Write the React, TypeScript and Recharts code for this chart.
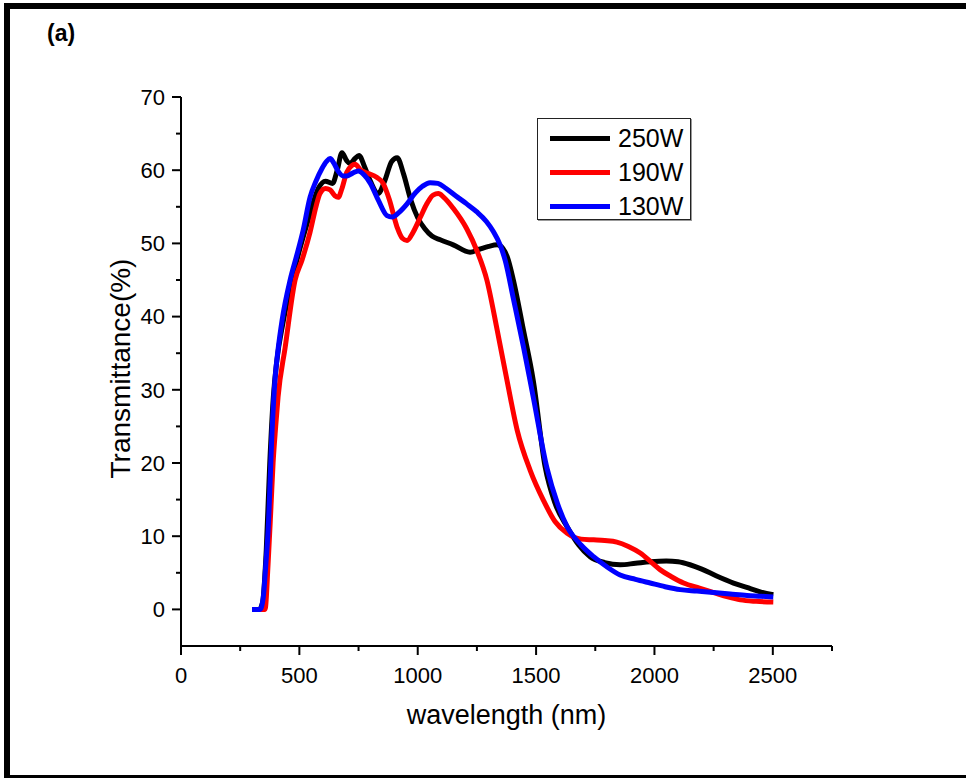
import React from 'react'
import { LineChart, Line, XAxis, YAxis, Legend } from 'recharts'

// wavelength (nm) / transmittance (%)
const wl250 = [300, 330, 345, 360, 375, 390, 405, 430, 465, 500, 540, 580, 610, 640, 660, 680, 700, 714, 735, 752, 775, 800, 833, 860, 890, 913, 940, 970, 1000, 1030, 1060, 1095, 1150, 1221, 1260, 1300, 1336, 1360, 1380, 1404, 1447, 1488, 1538, 1580, 1631, 1680, 1728, 1790, 1855, 1920, 1982, 2050, 2100, 2150, 2200, 2260, 2334, 2390, 2447, 2502]
const t250 = [0, 0, 1, 8, 20, 29, 34, 39, 44.5, 49, 53.5, 57.5, 58.5, 58.2, 60, 62.4, 61.3, 60.9, 61.6, 62, 60.5, 58.5, 56.8, 58.5, 61.2, 61.7, 59.5, 56, 53.5, 52, 51, 50.5, 49.8, 48.8, 49.2, 49.6, 49.8, 49.3, 48, 45, 38.1, 31.3, 19.5, 14.5, 11.3, 8.8, 7.2, 6.4, 6.1, 6.3, 6.5, 6.6, 6.5, 6.1, 5.5, 4.6, 3.6, 3.0, 2.4, 2.0]

const wl190 = [300, 355, 368, 380, 389, 400, 410, 440, 482, 511, 545, 570, 587, 610, 630, 650, 664, 680, 700, 720, 735, 760, 786, 828, 854, 880, 913, 935, 955, 980, 1010, 1040, 1065, 1087, 1110, 1150, 1207, 1250, 1292, 1336, 1377, 1420, 1475, 1531, 1580, 1631, 1690, 1743, 1790, 1841, 1890, 1940, 1985, 2025, 2070, 2123, 2190, 2250, 2310, 2363, 2430, 2502]
const t190 = [0, 0, 6.3, 14, 20, 25, 29, 35.8, 45, 47.7, 51.5, 55, 56.8, 57.5, 57.3, 56.5, 56.3, 57.5, 59.7, 60.6, 60.8, 60, 59.6, 59, 58.2, 56, 52.2, 50.7, 50.4, 51.5, 53.5, 55.5, 56.6, 56.8, 56.3, 54.8, 52, 49, 45, 38.1, 31.3, 24.5, 19, 14.9, 12, 10.4, 9.6, 9.5, 9.4, 9.2, 8.6, 7.7, 6.5, 5.4, 4.5, 3.6, 2.9, 2.3, 1.7, 1.3, 1.1, 1.0]

const wl130 = [300, 334, 347, 358, 368, 385, 397, 410, 427, 461, 490, 516, 545, 570, 595, 615, 630, 645, 665, 685, 700, 725, 749, 775, 800, 835, 870, 892, 920, 955, 990, 1020, 1052, 1085, 1120, 1160, 1207, 1250, 1290, 1320, 1348, 1370, 1403, 1447, 1488, 1546, 1590, 1631, 1690, 1743, 1800, 1855, 1920, 1982, 2045, 2109, 2180, 2250, 2320, 2391, 2450, 2502]
const t130 = [0, 0, 1.5, 6, 10.8, 24.6, 31.4, 35.5, 39.5, 45, 48.5, 51.8, 56.3, 58.5, 60.2, 61.2, 61.6, 61, 59.8, 59.2, 59.2, 59.6, 59.9, 59.3, 58.2, 55.8, 53.8, 53.6, 54.2, 55.4, 56.9, 57.8, 58.3, 58.2, 57.5, 56.5, 55.4, 54.3, 53, 51.6, 49.8, 47.6, 42.6, 35.8, 29, 19.3, 14.5, 11.3, 8.8, 7.2, 5.8, 4.7, 4.1, 3.6, 3.1, 2.7, 2.5, 2.3, 2.1, 1.9, 1.8, 1.7]

const seriesNames = ['250W', '190W', '130W']
const seriesColors = ['#000000', '#ff0000', '#0000ff']

const xMajor = [0, 500, 1000, 1500, 2000, 2500]
const xMinor = [250, 750, 1250, 1750, 2250, 2750]
const yMajor = [0, 10, 20, 30, 40, 50, 60, 70]
const yMinor = [5, 15, 25, 35, 45, 55, 65]

const toPoints = (xs: number[], ys: number[]) => xs.map((x, i) => ({ x, y: ys[i] }))
const series = [toPoints(wl250, t250), toPoints(wl190, t190), toPoints(wl130, t130)]

const xTicks = [...xMajor, ...xMinor].sort((a, b) => a - b)
const yTicks = [...yMajor, ...yMinor].sort((a, b) => a - b)

const FONT = 'Arial, "Liberation Sans", sans-serif'
const TICK_FONT = 22
const MAJOR_LEN = 9
const MINOR_LEN = 5

// bottom axis tick: major ones get a longer line and a label
function XTick(props: any) {
    const { x, y, payload } = props
    const major = xMajor.includes(payload.value)
    const len = major ? MAJOR_LEN : MINOR_LEN
    return (
        <g>
            <line x1={x} x2={x} y1={y} y2={y + len} stroke="#000" strokeWidth={2} />
            {major && (
                <text x={x} y={y + len + 12} dy="0.71em" textAnchor="middle" fill="#000" style={{ fontSize: TICK_FONT, fontFamily: FONT }}>
                    {payload.value}
                </text>
            )}
        </g>
    )
}

function YTick(props: any) {
    const { x, y, payload } = props
    const major = yMajor.includes(payload.value)
    const len = major ? MAJOR_LEN : MINOR_LEN
    return (
        <g>
            <line x1={x - len} x2={x} y1={y} y2={y} stroke="#000" strokeWidth={2} />
            {major && (
                <text x={x - len - 7} y={y} dy="0.355em" textAnchor="end" fill="#000" style={{ fontSize: TICK_FONT, fontFamily: FONT }}>
                    {payload.value}
                </text>
            )}
        </g>
    )
}

function XTitle(props: any) {
    const { viewBox } = props
    const cx = viewBox.x + viewBox.width / 2
    return (
        <text x={cx} y={viewBox.y + 59} dy="0.71em" textAnchor="middle" style={{ fontSize: 27, fontFamily: FONT, fill: '#000' }}>
            wavelength (nm)
        </text>
    )
}

function YTitle(props: any) {
    const { viewBox } = props
    const cx = 120
    const cy = viewBox.y + viewBox.height / 2 - 3
    return (
        <text
            x={cx}
            y={cy}
            transform={`rotate(-90, ${cx}, ${cy})`}
            textAnchor="middle"
            dominantBaseline="central"
            style={{ fontSize: 28, fontFamily: FONT, fill: '#000' }}
        >
            Transmittance(%)
        </text>
    )
}

function LegendBox() {
    return (
        <div
            style={{
                width: 154,
                height: 102,
                boxSizing: 'border-box',
                border: '1px solid #222',
                boxShadow: '1px 1px 0 #999',
                background: '#fff',
                paddingTop: 2,
                paddingLeft: 12,
                fontFamily: FONT,
            }}
        >
            {seriesNames.map((name, i) => (
                <div key={name} style={{ display: 'flex', alignItems: 'center', height: 34 }}>
                    <div style={{ width: 60, height: 5, background: seriesColors[i] }} />
                    <span style={{ marginLeft: 8, fontSize: 25, color: '#000', lineHeight: '34px' }}>{name}</span>
                </div>
            ))}
        </div>
    )
}

export default function App() {
    return (
        <div style={{ position: 'absolute', left: 0, top: 0, width: 966, height: 778, overflow: 'hidden', background: '#fff' }}>
            <div
                style={{
                    position: 'absolute',
                    left: 4,
                    top: 3,
                    width: 1000,
                    height: 778,
                    boxSizing: 'border-box',
                    border: '6px solid #000',
                }}
            />
            <div
                style={{
                    position: 'absolute',
                    left: 47,
                    top: 20,
                    fontFamily: FONT,
                    fontWeight: 'bold',
                    fontSize: 23,
                    color: '#000',
                }}
            >
                (a)
            </div>
            <div style={{ position: 'absolute', left: 0, top: 0 }}>
                <LineChart
                    width={966}
                    height={778}
                    margin={{ top: 97, right: 134, bottom: 72, left: 121 }}
                >
                    <XAxis
                        type="number"
                        dataKey="x"
                        domain={[0, 2750]}
                        allowDataOverflow
                        ticks={xTicks}
                        interval={0}
                        height={60}
                        tickSize={0}
                        tickMargin={0}
                        tick={<XTick />}
                        tickLine={false}
                        axisLine={{ stroke: '#000', strokeWidth: 2 }}
                        label={<XTitle />}
                    />
                    <YAxis
                        type="number"
                        domain={[-5, 70]}
                        allowDataOverflow
                        ticks={yTicks}
                        interval={0}
                        width={60}
                        tickSize={0}
                        tickMargin={0}
                        tick={<YTick />}
                        tickLine={false}
                        axisLine={{ stroke: '#000', strokeWidth: 2 }}
                        label={<YTitle />}
                    />
                    {series.map((pts, i) => (
                        <Line
                            key={seriesNames[i]}
                            data={pts}
                            dataKey="y"
                            name={seriesNames[i]}
                            type="monotone"
                            stroke={seriesColors[i]}
                            strokeWidth={5}
                            dot={false}
                            isAnimationActive={false}
                        />
                    ))}
                    <Legend
                        layout="vertical"
                        align="center"
                        verticalAlign="middle"
                        content={() => <LegendBox />}
                        wrapperStyle={{ left: 537, top: 118, width: 154, height: 102 }}
                    />
                </LineChart>
            </div>
        </div>
    )
}
